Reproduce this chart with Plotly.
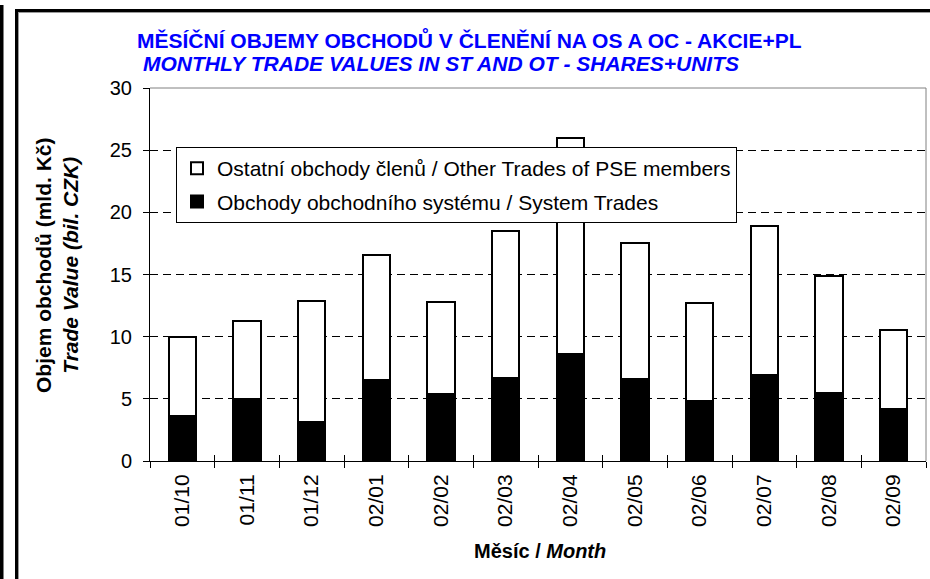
import plotly.graph_objects as go

months = ["01/10", "01/11", "01/12", "02/01", "02/02", "02/03",
          "02/04", "02/05", "02/06", "02/07", "02/08", "02/09"]
system_trades = [3.6, 5.0, 3.1, 6.5, 5.4, 6.7, 8.6, 6.6, 4.8, 6.9, 5.5, 4.2]
other_trades = [6.4, 6.3, 9.8, 10.1, 7.4, 11.8, 17.4, 10.9, 7.9, 12.0, 9.4, 6.3]
y_ticks = [0, 5, 10, 15, 20, 25, 30]

W, H = 930, 579
L, R, T, B = 150, 4, 88, 118
FONT = "Liberation Sans, Arial, sans-serif"


def px(x):
    return (x - L) / (W - L - R)


def py(y):
    return (H - B - y) / (H - T - B)


fig = go.Figure()
fig.add_trace(go.Bar(
    x=months, y=system_trades, name="Obchody obchodního systému / System Trades",
    marker=dict(color="black", line=dict(color="black", width=2)),
    legendgroup="a", legendrank=2,
))
fig.add_trace(go.Bar(
    x=months, y=other_trades, name="Ostatní obchody členů / Other Trades of PSE members",
    marker=dict(color="white", line=dict(color="black", width=2)),
    legendgroup="b", legendrank=1,
))
# helper trace so the overlay axes (inside half of the crossing ticks) exist
fig.add_trace(go.Scatter(x=[], y=[], xaxis="x2", yaxis="y2", showlegend=False, hoverinfo="skip"))

shapes = []


def rect(x0, y0, x1, y1, color):
    shapes.append(dict(type="rect", xref="paper", yref="paper",
                       x0=px(x0), x1=px(x1), y0=py(y1), y1=py(y0),
                       fillcolor=color, line=dict(width=0), layer="above"))


# outer frame
rect(0, 5, 3.5, 579, "black")
rect(15, 9, 18, 579, "black")
rect(15, 9, 930, 12, "black")
rect(18, 12, 19, 579, "#9a9a9a")
rect(18, 12, 930, 13, "#9a9a9a")
# plot area top/right border
shapes.append(dict(type="line", xref="paper", yref="paper", x0=0, x1=1, y0=1, y1=1,
                   line=dict(color="#808080", width=1), layer="above"))
shapes.append(dict(type="line", xref="paper", yref="paper", x0=1, x1=1, y0=0, y1=1,
                   line=dict(color="#808080", width=1), layer="above"))

annotations = [
    dict(text="<b>MĚSÍČNÍ OBJEMY OBCHODŮ V ČLENĚNÍ NA OS A OC - AKCIE+PL</b>",
         x=px(469), y=py(40), xref="paper", yref="paper", showarrow=False,
         xanchor="center", yanchor="middle", font=dict(family=FONT, size=21, color="#0000ff")),
    dict(text="<b><i>MONTHLY TRADE VALUES IN ST AND OT - SHARES+UNITS</i></b>",
         x=px(441), y=py(64), xref="paper", yref="paper", showarrow=False,
         xanchor="center", yanchor="middle", font=dict(family=FONT, size=21, color="#0000ff")),
    dict(text="<b>Objem obchodů (mld. Kč)</b><br><b><i>Trade Value (bil. CZK)</i></b>",
         x=px(57), y=py(265), xref="paper", yref="paper", showarrow=False, textangle=-90,
         xanchor="center", yanchor="middle", font=dict(family=FONT, size=21, color="black")),
    dict(text="<b>Měsíc / <i>Month</i></b>",
         x=px(540), y=py(551), xref="paper", yref="paper", showarrow=False,
         xanchor="center", yanchor="middle", font=dict(family=FONT, size=20, color="black")),
]

fig.update_layout(
    width=W, height=H,
    margin=dict(l=L, r=R, t=T, b=B, pad=0),
    paper_bgcolor="white", plot_bgcolor="white",
    barmode="stack", bargap=0.58,
    font=dict(family=FONT, color="black"),
    showlegend=True,
    legend=dict(
        x=px(176), y=py(147), xanchor="left", yanchor="top",
        bgcolor="white", bordercolor="black", borderwidth=1,
        traceorder="grouped", tracegroupgap=3,
        font=dict(family=FONT, size=21, color="black"),
    ),
    xaxis=dict(
        type="category", categoryorder="array", categoryarray=months,
        range=[-0.5, 11.5], tickson="boundaries", ticks="outside", ticklen=6,
        tickcolor="black", showline=True, linecolor="black", linewidth=1,
        tickangle=-90, tickfont=dict(family=FONT, size=21, color="black"),
        ticklabelstandoff=4, showgrid=False, zeroline=False,
    ),
    yaxis=dict(
        range=[0, 30], tickvals=y_ticks, ticks="outside", ticklen=6, tickcolor="black",
        showline=True, linecolor="black", linewidth=1,
        showgrid=True, gridcolor="black", gridwidth=1, griddash="8px,5px",
        zeroline=False, tickfont=dict(family=FONT, size=20, color="black"),
        ticklabelstandoff=7,
    ),
    xaxis2=dict(
        overlaying="x", anchor="y2", side="bottom", type="linear",
        range=[-0.5, 11.5], tick0=-0.5, dtick=1, ticks="inside", ticklen=6,
        tickcolor="black", showticklabels=False, showgrid=False, zeroline=False, showline=False,
    ),
    yaxis2=dict(
        overlaying="y", anchor="x2", side="left", range=[0, 30], tickvals=y_ticks,
        ticks="inside", ticklen=6, tickcolor="black", showticklabels=False,
        showgrid=False, zeroline=False, showline=False,
    ),
    shapes=shapes,
    annotations=annotations,
)

fig.write_html(
    "out.html",
    config={"displayModeBar": False},
    post_script="document.body.style.margin='0';document.body.style.overflow='hidden';",
)
